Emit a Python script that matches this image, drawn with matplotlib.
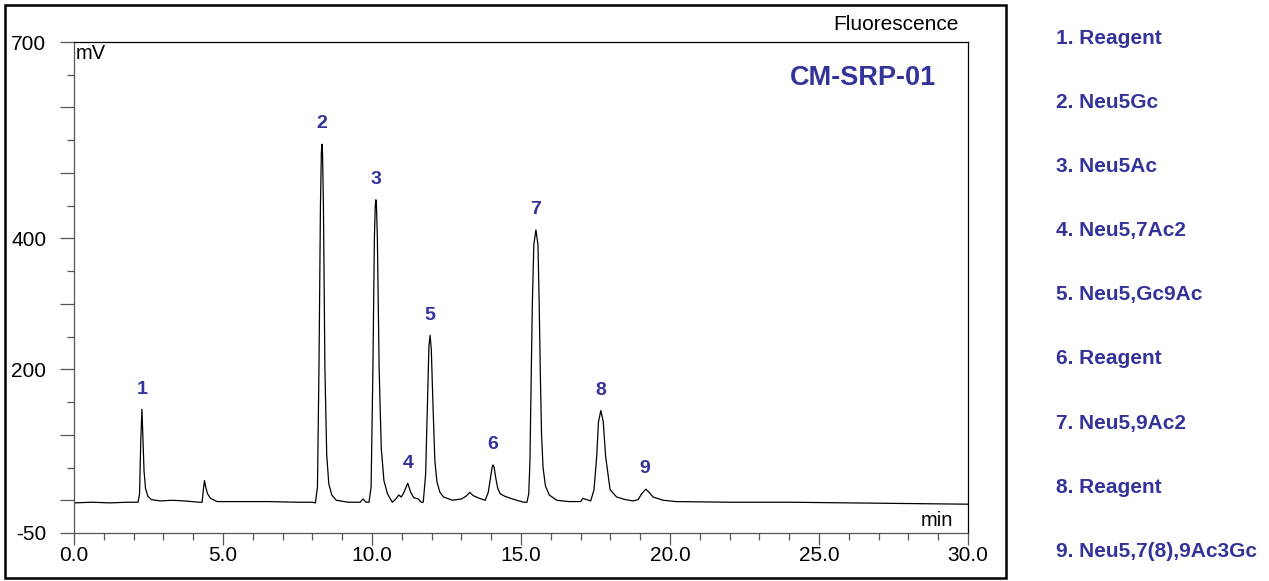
import numpy as np
import matplotlib.pyplot as plt
from matplotlib.patches import Rectangle

plt.rcParams['font.family'] = ['Liberation Sans', 'DejaVu Sans']
azul = '#333399'

# Traza del cromatograma: tiempo [min], senal [mV]
t_min = [0.0, 0.6, 1.2, 1.8, 2.15, 2.20, 2.24, 2.28, 2.31, 2.35, 2.40, 2.48, 2.6, 2.9, 3.3, 3.7, 4.2,
         4.30, 4.35, 4.38, 4.42, 4.48, 4.58, 4.8, 5.5, 6.5, 7.5, 8.0,
         8.10, 8.17, 8.22, 8.27, 8.30, 8.32, 8.34, 8.37, 8.42, 8.48, 8.55, 8.65, 8.8, 9.2, 9.6, 9.7, 9.8,
         9.90, 9.97, 10.03, 10.08, 10.11, 10.13, 10.15, 10.18, 10.24, 10.31, 10.40, 10.52, 10.68, 10.80,
         10.90, 10.98, 11.05, 11.20, 11.30, 11.40, 11.55, 11.65,
         11.72, 11.80, 11.86, 11.91, 11.95, 11.99, 12.05, 12.11, 12.18, 12.28, 12.40, 12.7, 13.0, 13.15,
         13.28, 13.40, 13.6, 13.80,
         13.90, 13.98, 14.03, 14.06, 14.10, 14.15, 14.22, 14.30, 14.46, 14.85, 15.10,
         15.20, 15.26, 15.30, 15.34, 15.38, 15.43, 15.50, 15.57, 15.61, 15.65, 15.69, 15.74, 15.82, 15.95,
         16.2, 16.6, 17.0,
         17.08, 17.2, 17.34, 17.45, 17.54, 17.60, 17.68, 17.76, 17.84, 17.99, 18.21, 18.5, 18.76,
         18.93, 19.05, 19.19, 19.30, 19.43, 19.77, 20.2, 22.0, 24.0, 26.0, 28.0, 30.0]
senal_mv = [-4, -3, -4, -3, -3, 10, 90, 139, 100, 45, 18, 6, 1, -1, 0, -1, -3,
            -3, 20, 30, 20, 10, 3, -2, -2, -2, -3, -3,
            -4, 20, 200, 450, 530, 544, 530, 450, 200, 70, 25, 8, 0, -3, -3, 2, -3,
            -3, 20, 200, 400, 450, 459, 450, 400, 200, 80, 30, 10, -3, 2,
            8, 5, 10, 26, 12, 4, 2, -3,
            -3, 40, 150, 235, 252, 230, 140, 60, 28, 12, 5, 0, 2, 6,
            12, 7, 3, 0,
            12, 35, 50, 54, 50, 35, 18, 10, 6, 0, -3,
            -3, 10, 60, 180, 300, 390, 413, 390, 300, 190, 100, 50, 22, 8,
            0, -2, -2,
            3, 1, -1, 16, 67, 120, 137, 120, 67, 16, 5, 1, -1,
            1, 10, 17, 12, 5, 0, -2, -3, -3, -4, -5, -6]

# Picos numerados
pico_num = ['1', '2', '3', '4', '5', '6', '7', '8', '9']
pico_t = [2.28, 8.30, 10.13, 11.21, 11.95, 14.06, 15.50, 17.68, 19.16]
pico_mv = [139, 544, 459, 26, 252, 54, 413, 137, 17]

leyenda = ['1. Reagent', '2. Neu5Gc', '3. Neu5Ac', '4. Neu5,7Ac2', '5. Neu5,Gc9Ac',
           '6. Reagent', '7. Neu5,9Ac2', '8. Reagent', '9. Neu5,7(8),9Ac3Gc']

fig = plt.figure(figsize=(12.69, 5.81), dpi=100)
ax = fig.add_axes([74/1269, 48/581, 894/1269, 491/581])

ax.plot(t_min, senal_mv, '-', linewidth=0.9, color='black')

for num, tp, mv in zip(pico_num, pico_t, pico_mv):
    ax.annotate(num, xy=(tp, mv), xytext=(0, 14.5), textcoords='offset points',
                ha='center', va='center', fontsize=14, fontweight='bold', color=azul)

ax.set_xlim(0, 30); ax.set_ylim(-50, 700)
ax.set_xticks(np.arange(0, 31, 5))
ax.set_xticklabels(['0.0', '5.0', '10.0', '15.0', '20.0', '25.0', '30.0'])
ax.set_xticks(np.arange(0, 31, 1), minor=True)
ax.set_yticks([-50, 0, 100, 200, 300, 400, 500, 600, 700])
ax.set_yticklabels(['-50', '', '', '200', '', '400', '', '', '700'])
ax.set_yticks(np.arange(50, 700, 100), minor=True)

gris = '#555555'
ax.tick_params(axis='both', which='both', direction='out', color=gris, width=0.9, labelsize=15)
ax.tick_params(axis='y', which='major', length=10, pad=10)
ax.tick_params(axis='y', which='minor', length=5)
ax.tick_params(axis='x', which='major', length=8.5, pad=1)
ax.tick_params(axis='x', which='minor', length=5)
for s in ['left', 'bottom']:
    ax.spines[s].set_color(gris)
for s in ['top', 'right']:
    ax.spines[s].set_color('black')
for s in ax.spines.values():
    s.set_linewidth(0.9)

ax.text(0.002, 0.995, 'mV', transform=ax.transAxes, ha='left', va='top', fontsize=14.5)
ax.text(0.983, 0.006, 'min', transform=ax.transAxes, ha='right', va='bottom', fontsize=14.5)

fig.text(959/1269, 1 - 24/581, 'Fluorescence', ha='right', va='center', fontsize=15)
fig.text(936/1269, 1 - 78/581, 'CM-SRP-01', ha='right', va='center', fontsize=19.5,
         fontweight='bold', color=azul)

# Lista de compuestos a la derecha
for i, txt in enumerate(leyenda):
    fig.text(1056/1269, 1 - (38 + 64.2*i)/581, txt, ha='left', va='center', fontsize=15,
             fontweight='bold', color=azul)

# Marco exterior
fig.patches.append(Rectangle((5/1269, 3/581), 1001/1269, 573/581, transform=fig.transFigure,
                             fill=False, edgecolor='black', linewidth=1.8))

fig.savefig('out.png', dpi=100)
